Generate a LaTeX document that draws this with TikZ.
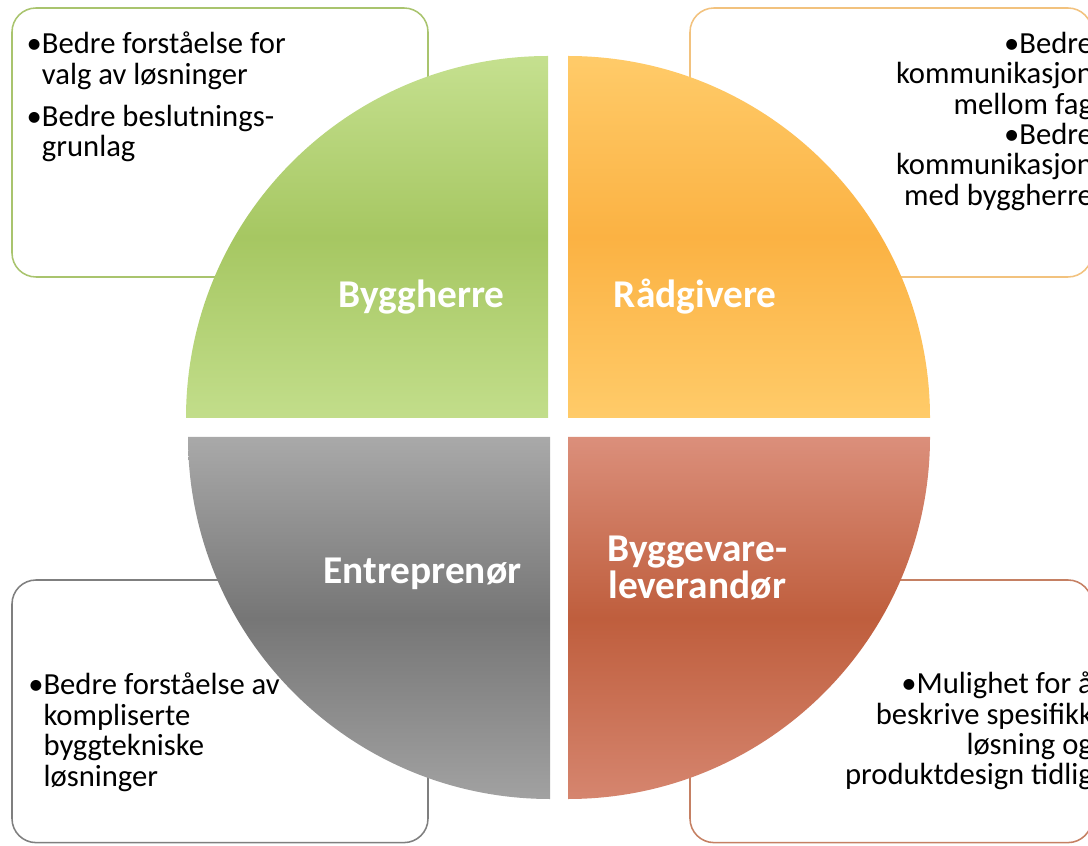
\documentclass[tikz,border=0pt]{standalone}
\usepackage{fontspec}
\setmainfont{Carlito}
\usetikzlibrary{shadows}
\definecolor{grnTop}{HTML}{C5E08F}
\definecolor{grnMid}{HTML}{A6C762}
\definecolor{grnEdge}{HTML}{A9C46E}
\definecolor{orgTop}{HTML}{FFCB69}
\definecolor{orgMid}{HTML}{FBB243}
\definecolor{orgEdge}{HTML}{F2C27E}
\definecolor{gryTop}{HTML}{A9A9A9}
\definecolor{gryMid}{HTML}{767676}
\definecolor{gryEdge}{HTML}{7F7F7F}
\definecolor{redTop}{HTML}{DB8F7B}
\definecolor{redMid}{HTML}{BF5E3D}
\definecolor{redEdge}{HTML}{C58063}
\tikzset{
  quad/.style={drop shadow={shadow xshift=0pt,shadow yshift=-1.6mm,opacity=0.4}},
  infobox/.style={rounded corners=0.6cm,line width=1.1pt,fill=white},
  info/.style={font=\fontsize{21.8}{21.6}\selectfont,inner sep=0pt},
  quadlabel/.style={text=white,font=\fontsize{28}{26}\selectfont\bfseries,inner sep=0pt,align=center}
}
\begin{document}
\begin{tikzpicture}
  \useasboundingbox (0,0) rectangle (27.2,21.125);
  \clip (0,0) rectangle (27.2,21.125);
  % boxes behind the circle
  \draw[infobox,draw=grnEdge] (0.3,14.2) rectangle (10.7,20.925);
  \draw[infobox,draw=orgEdge] (17.25,14.2) rectangle (27.3,20.925);
  \draw[infobox,draw=gryEdge] (0.3,0.06) rectangle (10.7,6.625);
  \draw[infobox,draw=redEdge] (17.25,0.06) rectangle (27.3,6.625);
  \node[info,anchor=north west,align=left] (tl) at (0.66,20.33)
    {\textbullet Bedre forståelse for\\\hphantom{\textbullet}valg av løsninger\\[0.3cm]
     \textbullet Bedre beslutnings-\\\hphantom{\textbullet}grunlag};
  \node[info,anchor=north east,align=right] (tr) at (27.33,20.33)
    {\textbullet Bedre\\kommunikasjon\\mellom fag\\\textbullet Bedre\\kommunikasjon\\med byggherre};
  \node[info,anchor=north west,align=left] (bl) at (0.7,4.3)
    {\textbullet Bedre forståelse av\\\hphantom{\textbullet}kompliserte\\\hphantom{\textbullet}byggtekniske\\\hphantom{\textbullet}løsninger};
  \node[info,anchor=north east,align=right] (br) at (27.33,4.33)
    {\textbullet Mulighet for å\\beskrive spesifikk\\løsning og\\produktdesign tidlig};
  % the four quarters
  \begin{scope}[quad]
    \shade[top color=grnTop,bottom color=grnTop!90!grnMid,middle color=grnMid]
      (13.7,10.675) -- ++(-9.05,0) arc (180:90:9.05) -- cycle;
    \shade[top color=orgTop,bottom color=orgTop,middle color=orgMid]
      (14.2,10.675) -- ++(0,9.05) arc (90:0:9.05) -- cycle;
    \shade[top color=gryTop,bottom color=gryTop!85!gryMid,middle color=gryMid]
      (13.75,10.2) -- ++(0,-9.05) arc (270:180:9.05) -- cycle;
    \shade[top color=redTop,bottom color=redTop!80!redMid,middle color=redMid]
      (14.2,10.2) -- ++(9.05,0) arc (0:-90:9.05) -- cycle;
  \end{scope}
  \node[quadlabel,anchor=base] (byggherre) at (10.54,13.425) {Byggherre};
  \node[quadlabel,anchor=base] (radgivere) at (17.38,13.425) {Rådgivere};
  \node[quadlabel,anchor=base] (entreprenor) at (10.56,6.55) {Entreprenør};
  \node[quadlabel,anchor=base] (leverandor) at (17.43,6.175) {Byggevare-\\leverandør};
\end{tikzpicture}
\end{document}
